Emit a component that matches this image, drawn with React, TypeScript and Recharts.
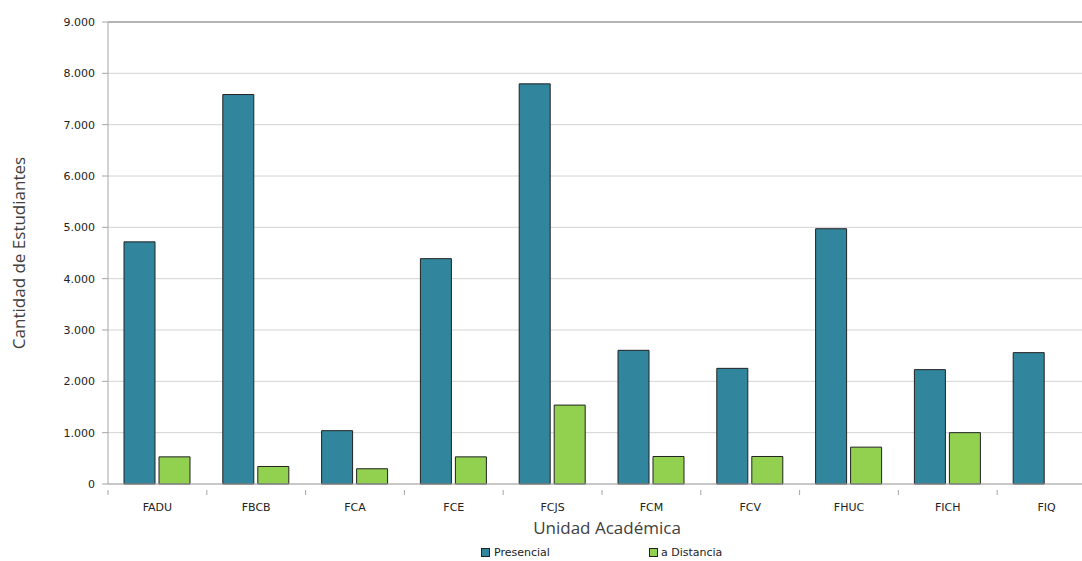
import React from 'react';
import { BarChart, Bar, XAxis, YAxis, CartesianGrid, ReferenceLine, Label } from 'recharts';

const categories = ['FADU', 'FBCB', 'FCA', 'FCE', 'FCJS', 'FCM', 'FCV', 'FHUC', 'FICH', 'FIQ'];
const presencial = [4717, 7587, 1039, 4390, 7795, 2604, 2253, 4973, 2228, 2559];
const distancia = [529, 341, 297, 529, 1537, 536, 536, 718, 1000, 0];
const yTicks = [0, 1000, 2000, 3000, 4000, 5000, 6000, 7000, 8000, 9000];
const seriesNames = ['Presencial', 'a Distancia'];

const data = categories.map((c, i) => ({ name: c, presencial: presencial[i], distancia: distancia[i] }));

const BLUE = '#31859c';
const GREEN = '#92d050';
const FONT = 'DejaVu Sans, Verdana, sans-serif';
const TITLE_FONT = 'Open Sans, Liberation Sans, Arial, sans-serif';

const fmt = (v: number) => (v === 0 ? '0' : v.toLocaleString('de-DE'));

const XTick = (props: any) => {
  const { x, y, payload } = props;
  const half = payload && payload.offset ? payload.offset : 49.4;
  return (
    <g>
      <line x1={x - half} x2={x - half} y1={y - 2} y2={y + 3} stroke="#a6a6a6" />
      <text x={x} y={y + 19} textAnchor="middle" fontFamily={FONT} fontSize={11} fill="#222">
        {payload.value}
      </text>
    </g>
  );
};

export default function App() {
  return (
    <div style={{ position: 'relative', width: 1082, height: 561, overflow: 'hidden', background: '#fff' }}>
      <style>{'body{margin:0;overflow:hidden;}'}</style>
      <BarChart
        width={1100}
        height={561}
        data={data}
        margin={{ top: 22, right: 4, left: 0, bottom: 47 }}
        barSize={31}
        barGap={4}
      >
        <CartesianGrid vertical={false} stroke="#d4d4d4" />
        <XAxis
          dataKey="name"
          height={30}
          tick={<XTick />}
          tickLine={false}
          axisLine={{ stroke: '#a6a6a6' }}
          interval={0}
        />
        <YAxis
          width={108}
          domain={[0, 9000]}
          ticks={yTicks}
          tickFormatter={fmt}
          tickSize={6}
          tickMargin={7}
          tick={{ fontFamily: FONT, fontSize: 11, fill: '#222' }}
          tickLine={{ stroke: '#a6a6a6' }}
          axisLine={{ stroke: '#a6a6a6' }}
          interval={0}
        >
          <Label
            value="Cantidad de Estudiantes"
            angle={-90}
            position="insideLeft"
            offset={19}
            style={{ textAnchor: 'middle', fontFamily: TITLE_FONT, fontSize: 17, fill: '#404040' }}
          />
        </YAxis>
        <ReferenceLine y={9000} stroke="#7f7f7f" />
        <Bar dataKey="presencial" name={seriesNames[0]} fill={BLUE} stroke="#222" strokeWidth={1} isAnimationActive={false} />
        <Bar dataKey="distancia" name={seriesNames[1]} fill={GREEN} stroke="#222" strokeWidth={1} isAnimationActive={false} />
      </BarChart>
      <div
        style={{
          position: 'absolute',
          left: 0,
          width: 1214,
          top: 517,
          textAlign: 'center',
          fontFamily: TITLE_FONT,
          fontSize: 17,
          lineHeight: '22px',
          color: '#404040',
        }}
      >
        Unidad Académica
      </div>
      <div style={{ position: 'absolute', top: 546, left: 481, display: 'flex', alignItems: 'center', fontFamily: FONT, fontSize: 11, color: '#222' }}>
        <span style={{ display: 'inline-block', width: 7, height: 7, background: BLUE, border: '1px solid #222', marginRight: 4 }} />
        <span>{seriesNames[0]}</span>
      </div>
      <div style={{ position: 'absolute', top: 546, left: 649, display: 'flex', alignItems: 'center', fontFamily: FONT, fontSize: 11, color: '#222' }}>
        <span style={{ display: 'inline-block', width: 7, height: 7, background: GREEN, border: '1px solid #222', marginRight: 3 }} />
        <span>{seriesNames[1]}</span>
      </div>
    </div>
  );
}
